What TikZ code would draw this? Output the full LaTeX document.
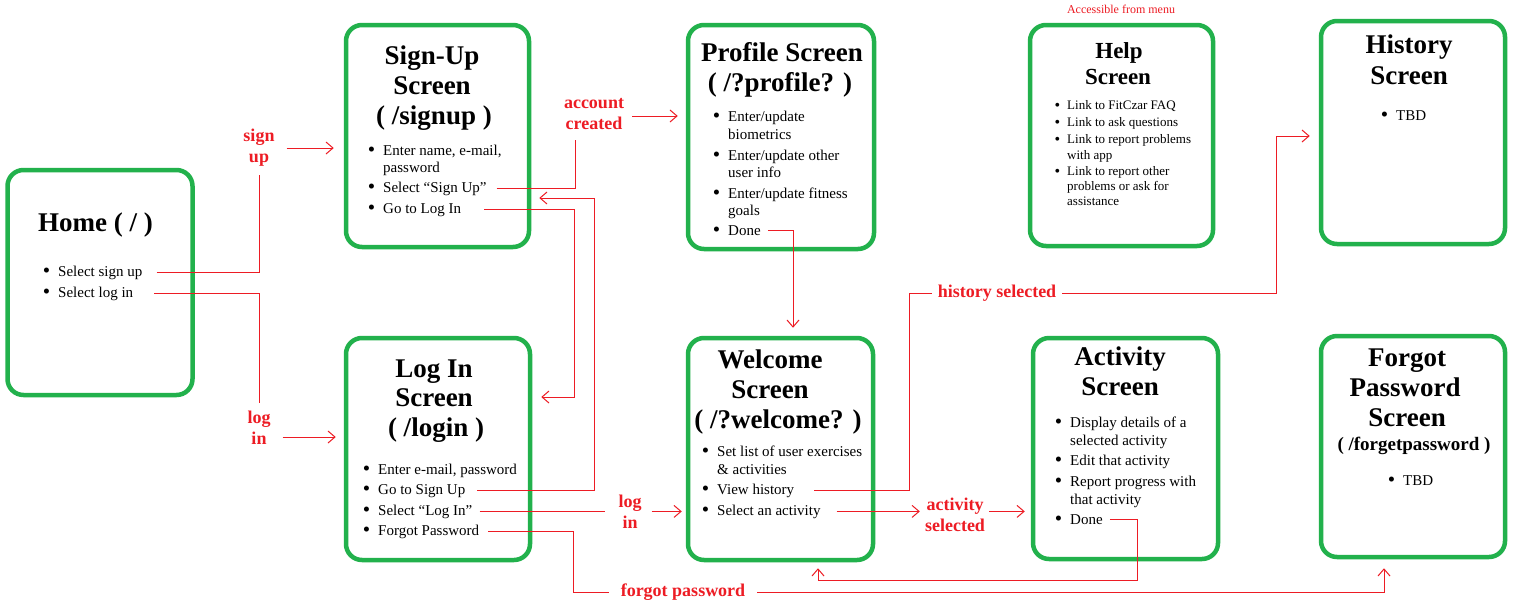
\documentclass[tikz,border=0pt]{standalone}
\usepackage{fontspec}
\setmainfont{Liberation Serif}
\usetikzlibrary{arrows.meta}
\definecolor{boxgreen}{RGB}{34,177,76}
\definecolor{linered}{RGB}{237,28,36}
\newcommand\myb{\llap{\smash{\raisebox{-1.5pt}{\fontsize{21}{21}\selectfont\textbullet}}\hspace{8pt}}}
\newcommand\mybh{\llap{\smash{\raisebox{-0.8pt}{\fontsize{16}{16}\selectfont\textbullet}}\hspace{7pt}}}
\begin{document}
\begin{tikzpicture}[x=1pt,y=-1pt,
  box/.style={draw=boxgreen, line width=4.5pt, rounded corners=16pt, inner sep=0pt},
  ttl/.style={font=\fontsize{27}{30}\selectfont\bfseries, anchor=base, inner sep=0pt},
  ttlh/.style={font=\fontsize{23}{26}\selectfont\bfseries, anchor=base, inner sep=0pt},
  itm/.style={font=\fontsize{15}{17}\selectfont, anchor=base west, inner sep=0pt},
  itmh/.style={font=\fontsize{13}{15}\selectfont, anchor=base west, inner sep=0pt},
  lbl/.style={text=linered, font=\fontsize{18}{21}\selectfont\bfseries, align=center, inner sep=0pt},
  conn/.style={draw=linered, line width=1pt},
  arr/.style={-{Straight Barb[length=7pt,width=12pt]}}]
\useasboundingbox (0,0) rectangle (1517,611);
\fill[white] (0,0) rectangle (1517,611);

% ---------- boxes ----------
\node[box, minimum width=185pt, minimum height=225pt] (home) at (100,282.5) {};
\node[box, minimum width=183pt, minimum height=222pt] (signup) at (437.5,136) {};
\node[box, minimum width=186pt, minimum height=224pt] (profile) at (781,137) {};
\node[box, minimum width=183pt, minimum height=221pt] (help) at (1121.5,135.5) {};
\node[box, minimum width=184pt, minimum height=223pt] (history) at (1413,132.5) {};
\node[box, minimum width=184pt, minimum height=222pt] (login) at (438,449) {};
\node[box, minimum width=185pt, minimum height=222pt] (welcome) at (780.5,449) {};
\node[box, minimum width=185pt, minimum height=221pt] (activity) at (1125.5,448.5) {};
\node[box, minimum width=184pt, minimum height=221pt] (forgot) at (1413,446.5) {};

% ---------- Home ----------
\node[ttl] (homet) at (95.5,231) {Home ( / )};
\node[itm] (h1) at (58,276) {\myb Select sign up};
\node[itm] (h2) at (58,297) {\myb Select log in};

% ---------- Sign-Up ----------
\node[ttl] (sut1) at (432,64) {Sign-Up};
\node[ttl] (sut2) at (432,94) {Screen};
\node[ttl] (sut3) at (434,124) {( /signup )};
\node[itm] (su1) at (383,155) {\myb Enter name, e-mail,};
\node[itm] (su1b) at (383,172) {password};
\node[itm] (su2) at (383,192) {\myb Select “Sign Up”};
\node[itm] (su3) at (383,213) {\myb Go to Log In};

% ---------- Profile ----------
\node[ttl] (pt1) at (782,61) {Profile Screen};
\node[ttl] (pt2) at (780,91) {( /?profile? )};
\node[itm] (p1) at (728,121) {\myb Enter/update};
\node[itm] (p1b) at (728,139) {biometrics};
\node[itm] (p2) at (728,160) {\myb Enter/update other};
\node[itm] (p2b) at (728,177) {user info};
\node[itm] (p3) at (728,198) {\myb Enter/update fitness};
\node[itm] (p3b) at (728,215) {goals};
\node[itm] (p4) at (728,235) {\myb Done};

% ---------- Help ----------
\node[text=linered, font=\fontsize{12}{14}\selectfont, anchor=base, inner sep=0pt] (menu) at (1121,13) {Accessible from menu};
\node[ttlh] (hpt1) at (1119,58) {Help};
\node[ttlh] (hpt2) at (1118,84) {Screen};
\node[itmh] (hp1) at (1067,109.5) {\mybh Link to FitCzar FAQ};
\node[itmh] (hp2) at (1067,126.5) {\mybh Link to ask questions};
\node[itmh] (hp3) at (1067,143.5) {\mybh Link to report problems};
\node[itmh] (hp3b) at (1067,159.5) {with app};
\node[itmh] (hp4) at (1067,175.5) {\mybh Link to report other};
\node[itmh] (hp4b) at (1067,190.5) {problems or ask for};
\node[itmh] (hp4c) at (1067,205.5) {assistance};

% ---------- History ----------
\node[ttl] (hit1) at (1409,53) {History};
\node[ttl] (hit2) at (1409,84) {Screen};
\node[itm] (hi1) at (1396,120) {\myb TBD};

% ---------- Log In ----------
\node[ttl] (lit1) at (434,377) {Log In};
\node[ttl] (lit2) at (434,406) {Screen};
\node[ttl] (lit3) at (436,436) {( /login )};
\node[itm] (li1) at (378,474) {\myb Enter e-mail, password};
\node[itm] (li2) at (378,494) {\myb Go to Sign Up};
\node[itm] (li3) at (378,515) {\myb Select “Log In”};
\node[itm] (li4) at (378,535) {\myb Forgot Password};

% ---------- Welcome ----------
\node[ttl] (wt1) at (770,368) {Welcome};
\node[ttl] (wt2) at (770,398) {Screen};
\node[ttl] (wt3) at (778,428) {( /?welcome? )};
\node[itm] (w1) at (717,456) {\myb Set list of user exercises};
\node[itm] (w1b) at (717,474) {\& activities};
\node[itm] (w2) at (717,494) {\myb View history};
\node[itm] (w3) at (717,515) {\myb Select an activity};

% ---------- Activity ----------
\node[ttl] (at1) at (1120,365) {Activity};
\node[ttl] (at2) at (1120,395) {Screen};
\node[itm] (a1) at (1070,427) {\myb Display details of a};
\node[itm] (a1b) at (1070,445) {selected activity};
\node[itm] (a2) at (1070,465) {\myb Edit that activity};
\node[itm] (a3) at (1070,486) {\myb Report progress with};
\node[itm] (a3b) at (1070,504) {that activity};
\node[itm] (a4) at (1070,524) {\myb Done};

% ---------- Forgot Password ----------
\node[ttl] (ft1) at (1407,366) {Forgot};
\node[ttl] (ft2) at (1405,396) {Password};
\node[ttl] (ft3) at (1407,426) {Screen};
\node[font=\fontsize{19}{22}\selectfont\bfseries, anchor=base, inner sep=0pt] (ft4) at (1414,450) {( /forgetpassword )};
\node[itm] (fp1) at (1403,485) {\myb TBD};

% ---------- labels ----------
\node[lbl] (lsign) at (259,148) {sign\\up};
\node[lbl] (llog) at (259,428) {log\\in};
\node[lbl] (lacc) at (594,114) {account\\created};
\node[lbl] (llog2) at (630,512) {log\\in};
\node[lbl] (lact) at (955,515) {activity\\selected};
\node[lbl] (lhist) at (997,293) {history selected};
\node[lbl] (lforgot) at (683,592) {forgot password};

% ---------- bend points ----------
\coordinate (c3) at (575,140);
\coordinate (c4) at (574,397);
\coordinate (c5) at (594,198);
\coordinate (c7a) at (573,592);
\coordinate (c7b) at (1384,592);
\coordinate (c9a) at (909,293);
\coordinate (c9b) at (1276,136);
\coordinate (c11) at (1137,580);

% ---------- connectors ----------
% Home -> Sign-Up
\draw[conn] ([xshift=14pt]h1.east) -| ([yshift=-8pt]lsign.south);
\draw[conn,arr] ([xshift=12pt]lsign.east) -- ([xshift=-10pt]lsign.east -| signup.west);
% Home -> Log In
\draw[conn] ([xshift=21pt]h2.east) -| ([yshift=8pt]llog.north);
\draw[conn,arr] ([xshift=12pt,yshift=-9pt]llog.east) -- ([xshift=-8pt,yshift=-9pt]llog.east -| login.west);
% Sign-Up -> Profile
\draw[conn] ([xshift=10pt]su2.east) -| (c3);
\draw[conn,arr] ([xshift=8pt,yshift=-2pt]lacc.east) -- ([xshift=-8pt,yshift=-2pt]lacc.east -| profile.west);
% Sign-Up -> Log In
\draw[conn,arr] ([xshift=23pt]su3.east) -| (c4) -- ([xshift=9pt]c4 -| login.east);
% Log In -> Sign-Up
\draw[conn,arr] ([xshift=12pt]li2.east) -| (c5) -- ([xshift=8pt]c5 -| signup.east);
% Log In -> Welcome
\draw[conn] ([xshift=7pt]li3.east) -- ([xshift=-13pt]li3.east -| llog2.west);
\draw[conn,arr] ([xshift=10pt]llog2.east |- li3.east) -- ([xshift=-4pt]li3.east -| welcome.west);
% Log In -> Forgot Password
\draw[conn] ([xshift=9pt]li4.east) -| (c7a) -- ([xshift=-12pt]lforgot.west);
\draw[conn,arr] ([xshift=12pt]lforgot.east) -| ([yshift=-9pt]c7b |- forgot.south);
% Profile -> Welcome
\draw[conn,arr] ([xshift=7pt]p4.east) -| ([xshift=12.5pt,yshift=8pt]welcome.north);
% Welcome -> History
\draw[conn] ([xshift=20pt]w2.east) -| (c9a) -- ([xshift=-6pt]lhist.west);
\draw[conn,arr] ([xshift=6pt]lhist.east) -| (c9b) -- ([xshift=-9pt]c9b -| history.west);
% Welcome -> Activity
\draw[conn,arr] ([xshift=16pt]w3.east) -- ([xshift=-5pt]w3.east -| lact.west);
\draw[conn,arr] ([xshift=4pt]lact.east |- w3.east) -- ([xshift=-6pt]w3.east -| activity.west);
% Activity -> Welcome
\draw[conn,arr] ([xshift=7pt]a4.east) -| (c11) -| ([xshift=37.5pt,yshift=-6pt]welcome.south);
\end{tikzpicture}
\end{document}
